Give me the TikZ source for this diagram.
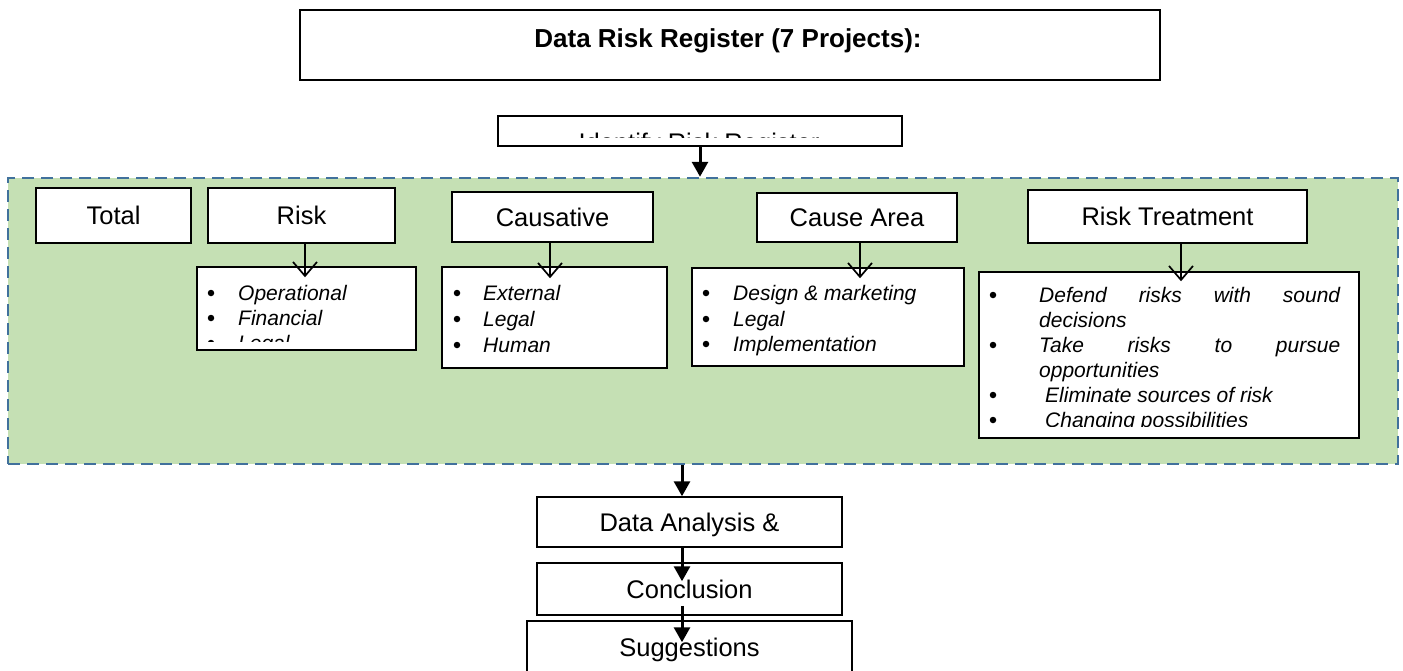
\documentclass[tikz,border=0pt]{standalone}
\usepackage{fontspec}
\setmainfont{Liberation Sans}
\usetikzlibrary{arrows.meta,calc}
\definecolor{grfill}{RGB}{197,224,180}
\definecolor{grline}{RGB}{65,113,156}
\begin{document}
\begin{tikzpicture}[x=1pt,y=-1pt,
  box/.style={draw=black,line width=1.5pt,fill=white,inner sep=0pt},
  lbl/.style={font=\fontsize{25.5}{30}\selectfont,text height=18.3pt,text depth=0pt},
  itm/.style={font=\fontsize{21}{25}\selectfont\itshape,anchor=base west,inner sep=0pt},
  blt/.style={circle,fill=black,inner sep=0pt,minimum size=6.5pt},
  bigarrow/.style={line width=3pt,-{Triangle[width=16pt,length=15pt]}},
  smallarrow/.style={line width=1.7pt,-{Straight Barb[width=24pt,length=14pt,line width=1.7pt]}},
]
\useasboundingbox[fill=white] (0,0) rectangle (1403,670);
% green region
\node[draw=grline,fill=grfill,line width=2.5pt,dash pattern=on 12pt off 7pt,
  minimum width=1390pt,minimum height=286pt,inner sep=0pt] (green) at (703,321) {};
% title
\node[box,minimum width=860pt,minimum height=70pt] (title) at (730,45) {};
\node[font=\fontsize{26}{30}\selectfont\bfseries,anchor=base,inner sep=0pt] (titletxt) at (728,47) {Data Risk Register (7 Projects):};
% identify
\node[box,minimum width=404pt,minimum height=30pt] (ident) at (700,131) {};
\begin{scope}
\clip (499,117) rectangle (901,137.5);
\node[font=\fontsize{25.5}{30}\selectfont,anchor=base,inner sep=0pt] (identtxt) at (699,151.5) {Identify Risk Register};
\end{scope}
% header boxes
\node[box,lbl,minimum width=155pt,minimum height=55pt] (total) at (113.5,215.5) {Total};
\node[box,lbl,minimum width=187pt,minimum height=55pt] (risk) at (301.5,215.5) {Risk};
\node[box,lbl,minimum width=201pt,minimum height=50pt] (caus) at (552.5,217) {Causative};
\node[box,lbl,minimum width=200pt,minimum height=49pt] (area) at (857,217.5) {Cause Area};
\node[box,lbl,minimum width=279pt,minimum height=53pt] (treat) at (1167.5,216.5) {Risk Treatment};
% list boxes
\node[box,minimum width=219pt,minimum height=83pt] (risklist) at (306.5,308.5) {};
\node[box,minimum width=225pt,minimum height=101pt] (causlist) at (554.5,317.5) {};
\node[box,minimum width=272pt,minimum height=98pt] (arealist) at (828,317) {};
\node[box,minimum width=380pt,minimum height=166pt] (treatlist) at (1169,355) {};
% risk list
\node[blt] (rb1) at (211,293) {};
\node[blt] (rb2) at (211,318) {};
\node[itm] (ri1) at (238,300) {Operational};
\node[itm] (ri2) at (238,325) {Financial};
\begin{scope}
\clip (198,268) rectangle (415,341);
\node[blt] (rb3) at (211,343) {};
\node[itm] (ri3) at (238,350) {Legal};
\end{scope}
% causative list
\node[blt] (cb1) at (457,293) {};
\node[blt] (cb2) at (457,319) {};
\node[blt] (cb3) at (457,345) {};
\node[itm] (ci1) at (483,300) {External};
\node[itm] (ci2) at (483,326) {Legal};
\node[itm] (ci3) at (483,352) {Human};
% cause area list
\node[blt] (ab1) at (706,293) {};
\node[blt] (ab2) at (706,319) {};
\node[blt] (ab3) at (706,344) {};
\node[itm] (ai1) at (733,300) {Design \& marketing};
\node[itm] (ai2) at (733,326) {Legal};
\node[itm] (ai3) at (733,351) {Implementation};
% treatment list
\node[blt] (tb1) at (993,295) {};
\node[blt] (tb3) at (993,345) {};
\node[blt] (tb5) at (993,395) {};
\node[itm] (ti1) at (1039,302) {\makebox[301pt][s]{Defend\hfill risks\hfill with\hfill sound}};
\node[itm] (ti2) at (1039,327) {decisions};
\node[itm] (ti3) at (1039,352) {\makebox[301pt][s]{Take\hfill risks\hfill to\hfill pursue}};
\node[itm] (ti4) at (1039,377) {opportunities};
\node[itm] (ti5) at (1045,402) {Eliminate sources of risk};
\begin{scope}
\clip (980,273) rectangle (1358,426.5);
\node[blt] (tb6) at (993,420) {};
\node[itm] (ti6) at (1045,427) {Changing possibilities};
\end{scope}
% small arrows
\draw[smallarrow] ([xshift=3.5pt]risk.south) -- ($([xshift=3.5pt]risk.south |- risklist.north)+(0,11)$);
\draw[smallarrow] ([xshift=-2.5pt]caus.south) -- ($([xshift=-2.5pt]caus.south |- causlist.north)+(0,12)$);
\draw[smallarrow] ([xshift=3pt]area.south) -- ($([xshift=3pt]area.south |- arealist.north)+(0,11)$);
\draw[smallarrow] ([xshift=13.5pt]treat.south) -- ($([xshift=13.5pt]treat.south |- treatlist.north)+(0,10)$);
% lower boxes
\node[box,lbl,minimum width=305pt,minimum height=50pt] (data) at (689.5,522) {Data Analysis \&};
\node[box,lbl,minimum width=305pt,minimum height=52pt] (concl) at (689.5,589) {Conclusion};
\node[box,lbl,minimum width=325pt,minimum height=53pt] (sugg) at (689.5,647.5) {Suggestions};
% big arrows
\coordinate (axis) at (682,0);
\draw[bigarrow] (ident.south) -- (ident.south |- green.north);
\draw[bigarrow] (axis |- green.south) -- (axis |- data.north);
\draw[bigarrow] (axis |- data.south) -- ($(axis |- concl.north)+(0,19)$);
\draw[bigarrow] ($(axis |- concl.south)+(0,-10)$) -- ($(axis |- sugg.north)+(0,22)$);
\end{tikzpicture}
\end{document}
